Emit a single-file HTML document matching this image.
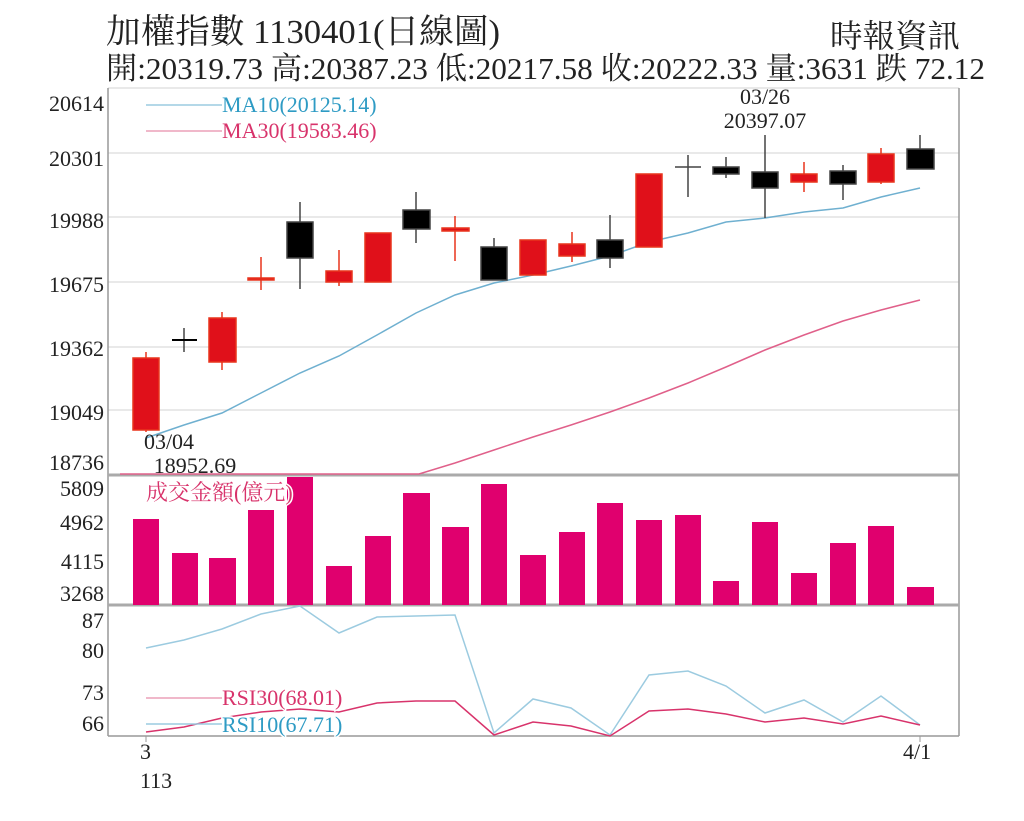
<!DOCTYPE html>
<html><head><meta charset="utf-8"><style>
html,body{margin:0;padding:0;background:#fff;}
svg{display:block;font-family:"Liberation Serif","Noto Serif CJK SC","Noto Sans CJK TC",serif;}
</style></head><body>
<svg width="1024" height="821" viewBox="0 0 1024 821" xmlns="http://www.w3.org/2000/svg">
<text x="106" y="43" font-size="34" fill="#222" textLength="394" lengthAdjust="spacingAndGlyphs">加權指數 1130401(日線圖)</text>
<text x="830" y="47" font-size="32" fill="#222" textLength="130" lengthAdjust="spacingAndGlyphs">時報資訊</text>
<text x="106" y="79" font-size="31" fill="#222" textLength="879" lengthAdjust="spacingAndGlyphs">開:20319.73 高:20387.23 低:20217.58 收:20222.33 量:3631 跌 72.12</text>
<!-- grid -->
<g stroke="#e2e2e2" stroke-width="1.5">
<line x1="108" y1="153" x2="959" y2="153"/><line x1="108" y1="217" x2="959" y2="217"/>
<line x1="108" y1="282" x2="959" y2="282"/><line x1="108" y1="347" x2="959" y2="347"/>
<line x1="108" y1="410" x2="959" y2="410"/>
<line x1="108" y1="88" x2="959" y2="88"/>
</g>
<g stroke="#999" stroke-width="1.5" fill="none">
<line x1="108" y1="88" x2="108" y2="736"/><line x1="959" y1="88" x2="959" y2="736"/>
<line x1="108" y1="736" x2="959" y2="736"/>
</g>
<g stroke="#aaa" stroke-width="3"><line x1="108" y1="475" x2="959" y2="475"/><line x1="108" y1="605" x2="959" y2="605"/></g>
<!-- y labels -->
<g font-size="22" fill="#222" text-anchor="end">
<text x="104" y="111">20614</text><text x="104" y="166">20301</text><text x="104" y="228">19988</text>
<text x="104" y="292">19675</text><text x="104" y="356">19362</text><text x="104" y="420">19049</text>
<text x="104" y="470">18736</text>
<text x="104" y="496">5809</text><text x="104" y="530">4962</text><text x="104" y="569">4115</text><text x="104" y="601">3268</text>
<text x="104" y="628">87</text><text x="104" y="658">80</text><text x="104" y="700">73</text><text x="104" y="731">66</text>
</g>
<!-- MA lines -->
<polyline fill="none" stroke="#6fb0d0" stroke-width="1.5" points="146,438 184,425 222,413 261,393 300,373 339,356 377,335 416,313 455,295 494,283 533,275 571,266 610,256 649,242 688,233 726,222 765,218 804,212 843,208 881,197 920,188"/>
<polyline fill="none" stroke="#e0608a" stroke-width="1.5" points="120,474 419,474 455,463 494,450 533,437 571,425 610,412 649,398 688,383 726,367 765,350 804,335 843,321 881,310 920,300"/>
<line x1="146" y1="105" x2="222" y2="105" stroke="#9ccbe0" stroke-width="1.5"/>
<line x1="146" y1="131" x2="222" y2="131" stroke="#eba0b8" stroke-width="1.5"/>
<text x="222" y="112" font-size="22" fill="#2e9bc4">MA10(20125.14)</text>
<text x="222" y="138" font-size="22" fill="#d8336b">MA30(19583.46)</text>
<!-- candles -->
<g stroke-width="1.5">
<g stroke="#e8341c" fill="#e0101a">
<line x1="146" y1="352" x2="146" y2="432"/><rect x="133" y="358" width="26" height="72"/>
<line x1="222" y1="312" x2="222" y2="370"/><rect x="209" y="318" width="27" height="44"/>
<line x1="261" y1="257" x2="261" y2="290"/><rect x="248" y="278" width="26" height="2"/>
<line x1="339" y1="250" x2="339" y2="286"/><rect x="326" y="271" width="26" height="11"/>
<rect x="365" y="233" width="26" height="49"/>
<line x1="455" y1="216" x2="455" y2="261"/><rect x="442" y="228" width="27" height="3"/>
<rect x="520" y="240" width="26" height="35"/>
<line x1="572" y1="232" x2="572" y2="262"/><rect x="559" y="244" width="26" height="12"/>
<rect x="636" y="174" width="26" height="73"/>
<line x1="804" y1="162" x2="804" y2="192"/><rect x="791" y="174" width="26" height="8"/>
<line x1="881" y1="148" x2="881" y2="184"/><rect x="868" y="154" width="26" height="28"/>
</g>
<g stroke="#444" fill="#000">
<line x1="184" y1="328" x2="184" y2="352"/><line x1="172" y1="340" x2="197" y2="340" stroke="#000" stroke-width="2"/>
<line x1="300" y1="202" x2="300" y2="289"/><rect x="287" y="222" width="26" height="36"/>
<line x1="416" y1="192" x2="416" y2="243"/><rect x="403" y="210" width="27" height="19"/>
<line x1="494" y1="238" x2="494" y2="280"/><rect x="481" y="247" width="26" height="33"/>
<line x1="610" y1="215" x2="610" y2="268"/><rect x="597" y="240" width="26" height="18"/>
<line x1="688" y1="155" x2="688" y2="197"/><line x1="675" y1="167" x2="701" y2="167"/>
<line x1="726" y1="157" x2="726" y2="178"/><rect x="713" y="167" width="26" height="7"/>
<line x1="765" y1="135" x2="765" y2="218"/><rect x="752" y="172" width="26" height="16"/>
<line x1="843" y1="165" x2="843" y2="200"/><rect x="830" y="171" width="26" height="13"/>
<line x1="920" y1="135" x2="920" y2="169"/><rect x="907" y="149" width="27" height="20"/>
</g>
</g>
<g font-size="22" fill="#222" text-anchor="middle">
<text x="765" y="104">03/26</text><text x="765" y="128">20397.07</text>
<text x="169" y="449">03/04</text><text x="195" y="473">18952.69</text>
</g>
<!-- volume -->
<g fill="#e0006e">
<rect x="133" y="519" width="26" height="86"/><rect x="172" y="553" width="26" height="52"/>
<rect x="209" y="558" width="27" height="47"/><rect x="248" y="510" width="26" height="95"/>
<rect x="287" y="477" width="26" height="128"/><rect x="326" y="566" width="26" height="39"/>
<rect x="365" y="536" width="26" height="69"/><rect x="403" y="493" width="27" height="112"/>
<rect x="442" y="527" width="27" height="78"/><rect x="481" y="484" width="26" height="121"/>
<rect x="520" y="555" width="26" height="50"/><rect x="559" y="532" width="26" height="73"/>
<rect x="597" y="503" width="26" height="102"/><rect x="636" y="520" width="26" height="85"/>
<rect x="675" y="515" width="26" height="90"/><rect x="713" y="581" width="26" height="24"/>
<rect x="752" y="522" width="26" height="83"/><rect x="791" y="573" width="26" height="32"/>
<rect x="830" y="543" width="26" height="62"/><rect x="868" y="526" width="26" height="79"/>
<rect x="907" y="587" width="27" height="18"/>
</g>
<text x="146" y="500" font-size="22" fill="#d8336b" stroke="#fff" stroke-width="3" paint-order="stroke">成交金額(億元)</text>
<!-- RSI -->
<polyline fill="none" stroke="#9ccbe0" stroke-width="1.5" points="146,648 184,640 222,629 261,614 300,606 339,633 377,617 416,616 455,615 494,733 533,699 571,708 610,735 649,675 688,671 726,686 765,713 804,700 843,722 881,696 920,725"/>
<polyline fill="none" stroke="#d8336b" stroke-width="1.5" points="146,732 184,727 222,718 261,712 300,709 339,712 377,703 416,701 455,701 494,735 533,722 571,726 610,736 649,711 688,709 726,714 765,722 804,718 843,724 881,716 920,725"/>
<line x1="146" y1="698" x2="222" y2="698" stroke="#eba0b8" stroke-width="1.5"/>
<line x1="146" y1="724" x2="222" y2="724" stroke="#9ccbe0" stroke-width="1.5"/>
<g font-size="22" stroke="#fff" stroke-width="3" paint-order="stroke">
<text x="222" y="705" fill="#d8336b">RSI30(68.01)</text>
<text x="222" y="732" fill="#2e9bc4">RSI10(67.71)</text>
</g>
<g stroke="#999" stroke-width="1">
<line x1="146" y1="736" x2="146" y2="742"/><line x1="920" y1="736" x2="920" y2="742"/>
</g>
<g font-size="22" fill="#222">
<text x="140" y="759">3</text><text x="140" y="788">113</text><text x="903" y="759">4/1</text>
</g>
</svg>
</body></html>
